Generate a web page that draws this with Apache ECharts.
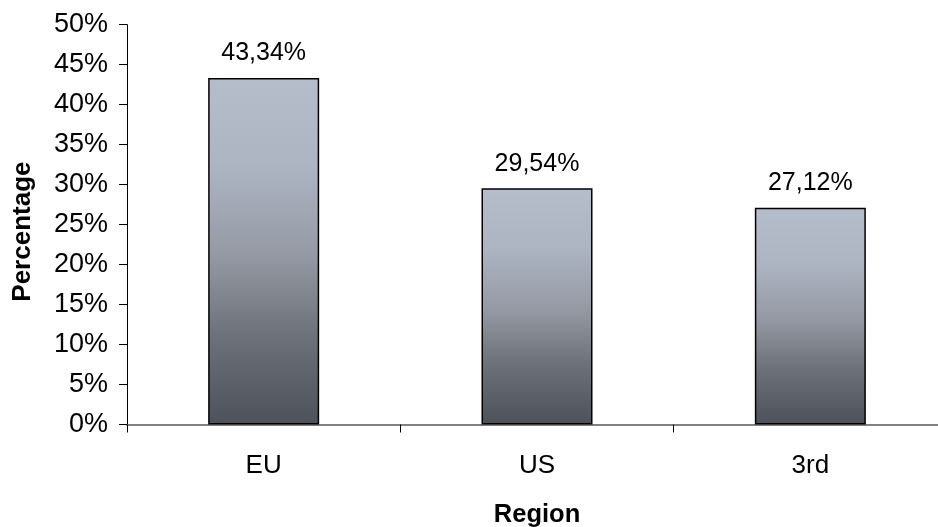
<!DOCTYPE html>
<html>
<head>
<meta charset="utf-8">
<script src="https://cdn.jsdelivr.net/npm/echarts@6/dist/echarts.min.js"></script>
<style>
html,body{margin:0;padding:0;background:#fff;overflow:hidden;}
#chart{width:938px;height:527px;}
</style>
</head>
<body>
<div id="chart"></div>
<script>
const categories = ['EU', 'US', '3rd'];
const percentages = [43.34, 29.54, 27.12];
const yTicks = [0, 5, 10, 15, 20, 25, 30, 35, 40, 45, 50];

const chart = echarts.init(document.getElementById('chart'), null, {renderer: 'canvas'});
const font = 'Liberation Sans, Arial, sans-serif';
chart.setOption({
  animation: false,
  backgroundColor: '#ffffff',
  grid: {left: 127, right: -9, top: 24.7, bottom: 102.5, containLabel: false, outerBoundsMode: 'none'},
  xAxis: {
    type: 'category',
    data: categories,
    name: 'Region',
    nameLocation: 'middle',
    nameGap: 77.5,
    nameTextStyle: {fontFamily: font, fontSize: 25.5, fontWeight: 'bold', color: '#000'},
    axisLine: {lineStyle: {color: '#808080', width: 2}},
    axisTick: {show: true, length: 8, lineStyle: {color: '#000', width: 1}},
    axisLabel: {fontFamily: font, fontSize: 26, color: '#000', margin: 28.5}
  },
  yAxis: {
    type: 'value',
    min: yTicks[0],
    max: yTicks[yTicks.length - 1],
    interval: 5,
    name: 'Percentage',
    nameLocation: 'middle',
    nameGap: 91,
    nameRotate: 90,
    nameTextStyle: {fontFamily: font, fontSize: 26, fontWeight: 'bold', color: '#000', padding: [0, 14, 0, 0]},
    axisLine: {show: true, lineStyle: {color: '#000', width: 1}},
    axisTick: {show: true, length: 8, lineStyle: {color: '#000', width: 1}},
    splitLine: {show: false},
    axisLabel: {fontFamily: font, fontSize: 27, color: '#000', margin: 19, formatter: v => v + '%'}
  },
  series: [{
    type: 'bar',
    data: percentages,
    barWidth: 111,
    itemStyle: {
      borderColor: '#000',
      borderWidth: 1.5,
      color: new echarts.graphic.LinearGradient(0, 0, 0, 1, [
        {offset: 0, color: '#b5bdcb'},
        {offset: 0.25, color: '#adb5c3'},
        {offset: 0.5, color: '#969ba5'},
        {offset: 0.75, color: '#6c7078'},
        {offset: 1, color: '#4d5159'}
      ])
    },
    label: {
      show: true,
      position: 'top',
      distance: 12,
      fontFamily: font,
      fontSize: 25,
      color: '#000',
      formatter: p => p.value.toFixed(2).replace('.', ',') + '%'
    }
  }]
});
</script>
</body>
</html>
